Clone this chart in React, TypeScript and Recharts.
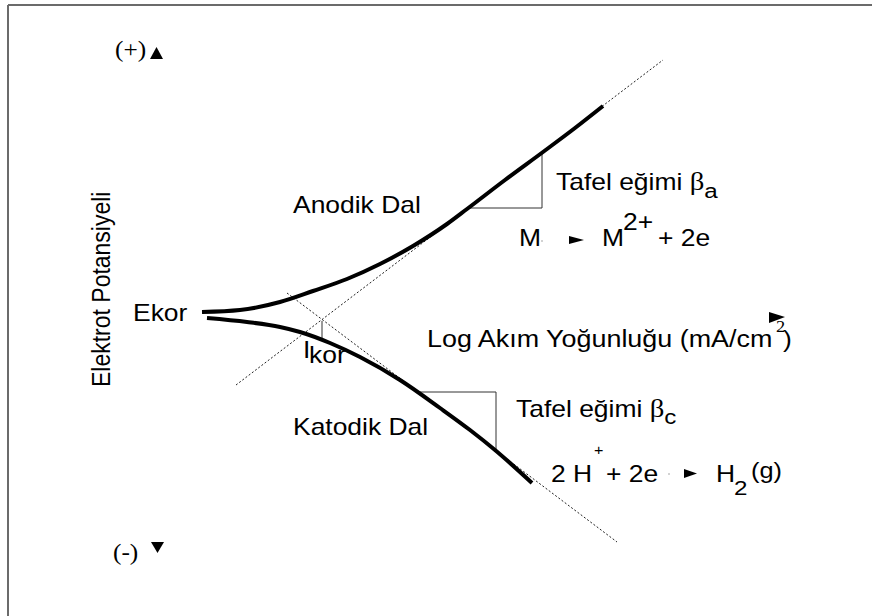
import { LineChart, Line, XAxis, YAxis } from "recharts";

// x: log(i / i_kor), E: potential relative to E_kor (mV)
const anodicX = [-1.18, -0.8, -0.4, -0.07, 0.27, 0.6, 0.93, 1.27, 1.47, 1.85, 2.23, 2.55, 2.83];
const anodicE = [1, 3, 11, 22, 34, 49, 67, 89, 104, 133, 161, 185, 207];

const cathodicX = [-1.13, -0.73, -0.4, -0.2, 0.1, 0.4, 0.8, 1.2, 1.5, 1.75, 2.12];
const cathodicE = [-5, -9, -14, -19, -30, -44, -67, -95, -117, -137, -170];

const anodicTafelX = [-0.84, 3.43];
const anodicTafelE = [-72, 253];
const cathodicTafelX = [-0.33, 2.97];
const cathodicTafelE = [20, -229];

const anodicSlopeX = [1.48, 2.22, 2.22];
const anodicSlopeE = [105, 105, 160];
const cathodicSlopeX = [0.97, 1.76, 1.76];
const cathodicSlopeE = [-79, -79, -137];

const ikorX = [0.02, 0.02];
const ikorE = [-8, -26];

const toRows = (xs: number[], es: number[]) => xs.map((x, i) => ({ x, E: es[i] }));

const W = 872;
const H = 616;
const SX = 1.15;
const SANS = "'Liberation Sans', Arial, sans-serif";
const SERIF = "'Liberation Serif', 'Times New Roman', serif";

const Txt = ({ x, y, size = 23, sx = SX, font = SANS, children }: any) => (
  <text
    transform={`translate(${x},${y}) scale(${sx},1)`}
    fontSize={size}
    fontFamily={font}
    fill="#000"
  >
    {children}
  </text>
);

const Annotations = () => (
  <svg width={W} height={H} style={{ position: "absolute", left: 0, top: 0, pointerEvents: "none" }}>
    {/* frame */}
    <line x1={8} y1={5} x2={W} y2={5} stroke="#6b6b6b" strokeWidth={2} />
    <line x1={8} y1={5} x2={8} y2={H} stroke="#6b6b6b" strokeWidth={2} />

    <Txt x={115} y={57} size={23} sx={1.1} font={SERIF}>(+)</Txt>
    <polygon points="156.5,47 163,59 150,59" fill="#000" />
    <Txt x={113} y={560} size={23} sx={1.1} font={SERIF}>(-)</Txt>
    <polygon points="151,542 164,542 157.5,553" fill="#000" />

    <text
      transform={`translate(110,387) scale(${SX},1) rotate(-90)`}
      fontSize={23}
      fontFamily={SANS}
      fill="#000"
    >
      Elektrot Potansiyeli
    </text>

    <Txt x={133} y={321}>Ekor</Txt>
    <Txt x={293} y={213}>Anodik Dal</Txt>
    <Txt x={293} y={435}>Katodik Dal</Txt>

    <Txt x={556} y={190}>
      Tafel eğimi <tspan fontFamily={SERIF} fontSize={25}>β</tspan>
      <tspan dy={8} fontSize={21}>a</tspan>
    </Txt>
    <Txt x={516} y={417}>
      Tafel eğimi <tspan fontFamily={SERIF} fontSize={25}>β</tspan>
      <tspan dy={7} fontSize={21}>c</tspan>
    </Txt>

    <Txt x={519} y={246}>M</Txt>
    <circle cx={542} cy={241} r={0.8} fill="#999" />
    <polygon points="569,236 584,240 569,244" fill="#000" />
    <Txt x={602} y={246}>M</Txt>
    <Txt x={623} y={230}>2+</Txt>
    <Txt x={658} y={246}>+ 2e</Txt>

    <Txt x={427} y={347} sx={1.17}>Log Akım Yoğunluğu (mA/cm</Txt>
    <Txt x={776} y={332} size={16} font={SERIF}>2</Txt>
    <Txt x={783} y={347}>)</Txt>
    <polygon points="769,312 785,317 769,323" fill="#000" />

    <Txt x={303} y={358}>I</Txt>
    <Txt x={309} y={363}>kor</Txt>

    <Txt x={551} y={482}>2 H</Txt>
    <Txt x={594} y={455} size={14}>+</Txt>
    <Txt x={606} y={482}>+ 2e</Txt>
    <circle cx={669} cy={474} r={0.8} fill="#999" />
    <polygon points="684,469 697,473.5 684,478" fill="#000" />
    <Txt x={716} y={482}>H</Txt>
    <Txt x={734} y={495} size={21}>2</Txt>
    <Txt x={751} y={478} size={22}>(g)</Txt>
  </svg>
);

const App = () => {
  return (
    <div style={{ position: "absolute", left: 0, top: 0, width: W, height: H, background: "#fff" }}>
      <LineChart width={W} height={H} margin={{ top: 0, right: 0, bottom: 0, left: 0 }}>
        <XAxis type="number" dataKey="x" domain={[-3.2, 5.52]} allowDataOverflow hide />
        <YAxis type="number" dataKey="E" domain={[-303, 313]} allowDataOverflow hide />
        <Line data={toRows(anodicTafelX, anodicTafelE)} dataKey="E" type="linear" stroke="#222" strokeWidth={1} strokeDasharray="2 2" dot={false} activeDot={false} isAnimationActive={false} />
        <Line data={toRows(cathodicTafelX, cathodicTafelE)} dataKey="E" type="linear" stroke="#222" strokeWidth={1} strokeDasharray="2 2" dot={false} activeDot={false} isAnimationActive={false} />
        <Line data={toRows(anodicSlopeX, anodicSlopeE)} dataKey="E" type="linear" stroke="#333" strokeWidth={1} dot={false} activeDot={false} isAnimationActive={false} />
        <Line data={toRows(cathodicSlopeX, cathodicSlopeE)} dataKey="E" type="linear" stroke="#333" strokeWidth={1} dot={false} activeDot={false} isAnimationActive={false} />
        <Line data={toRows(ikorX, ikorE)} dataKey="E" type="linear" stroke="#333" strokeWidth={1} dot={false} activeDot={false} isAnimationActive={false} />
        <Line data={toRows(anodicX, anodicE)} dataKey="E" type="monotone" stroke="#000" strokeWidth={4} dot={false} activeDot={false} isAnimationActive={false} />
        <Line data={toRows(cathodicX, cathodicE)} dataKey="E" type="monotone" stroke="#000" strokeWidth={4} dot={false} activeDot={false} isAnimationActive={false} />
      </LineChart>
      <Annotations />
    </div>
  );
};

export default App;
